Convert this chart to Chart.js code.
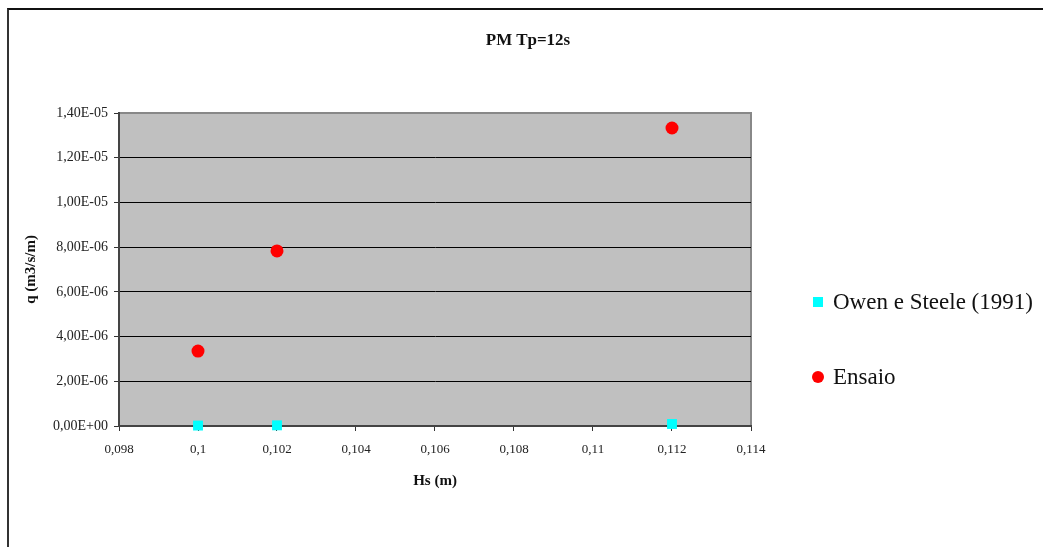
<!DOCTYPE html>
<html>
<head>
<meta charset="utf-8">
<script src="https://cdn.jsdelivr.net/npm/chart.js@4.4.1/dist/chart.umd.min.js"></script>
<style>
html,body{margin:0;padding:0;background:#fff;}
#wrap{position:relative;width:1043px;height:547px;overflow:hidden;font-family:"Liberation Serif","Times New Roman",serif;color:#111;}
#frame{position:absolute;left:7px;top:8px;width:1100px;height:600px;border-left:2px solid #333;border-top:2px solid #111;box-sizing:border-box;}
#c{position:absolute;left:0;top:0;}
#title{position:absolute;left:0;width:1056px;top:30px;text-align:center;font-weight:bold;font-size:17px;line-height:20px;}
.legtxt{position:absolute;left:833px;font-size:23px;line-height:30px;height:30px;white-space:nowrap;}
.legbox{position:absolute;}
</style>
</head>
<body>
<div id="wrap">
  <div id="frame"></div>
  <canvas id="c" width="1043" height="547"></canvas>
  <div id="title">PM Tp=12s</div>
  <div id="leg"></div>
</div>
<script>
// ---- data ----
const hs = [0.1, 0.102, 0.112];
const owenSteele = [2e-8, 3e-8, 9e-8];
const ensaio = [3.35e-6, 7.83e-6, 1.333e-5];
const seriesLabels = ['Owen e Steele (1991)', 'Ensaio'];
const xTickLabels = ['0,098','0,1','0,102','0,104','0,106','0,108','0,11','0,112','0,114'];
const yTickLabels = ['0,00E+00','2,00E-06','4,00E-06','6,00E-06','8,00E-06','1,00E-05','1,20E-05','1,40E-05'];
const chartTitle = 'PM Tp=12s';
const xTitle = 'Hs (m)';
const yTitle = 'q (m3/s/m)';

// ---- styles ----
const colors = ['#00FFFF', '#FF0000'];
const FONT = '"Liberation Serif","Times New Roman",serif';

document.getElementById('title').textContent = chartTitle;

// HTML legend
const leg = document.getElementById('leg');
const legY = [302, 377];
seriesLabels.forEach((lab, i) => {
  const box = document.createElement('div');
  box.className = 'legbox';
  if (i === 0) {
    Object.assign(box.style, {left:'813px', top:(legY[i]-5)+'px', width:'10px', height:'10px', background:colors[i]});
  } else {
    Object.assign(box.style, {left:'812px', top:(legY[i]-6)+'px', width:'12px', height:'12px', borderRadius:'50%', background:colors[i]});
  }
  leg.appendChild(box);
  const t = document.createElement('div');
  t.className = 'legtxt';
  t.style.top = (legY[i]-15)+'px';
  t.textContent = lab;
  leg.appendChild(t);
});

const plotBg = {
  id: 'plotBg',
  beforeDraw(chart) {
    const {ctx, chartArea: a} = chart;
    ctx.save();
    ctx.fillStyle = '#C0C0C0';
    ctx.fillRect(a.left, a.top, a.right - a.left, a.bottom - a.top);
    ctx.strokeStyle = '#888888';
    ctx.lineWidth = 2;
    ctx.beginPath();
    ctx.moveTo(a.left, a.top);
    ctx.lineTo(a.right, a.top);
    ctx.lineTo(a.right, a.bottom);
    ctx.stroke();
    ctx.restore();
  }
};

const yMax = 1.4e-5;

new Chart(document.getElementById('c'), {
  type: 'scatter',
  data: {
    datasets: [
      {
        label: seriesLabels[0],
        data: hs.map((x, i) => ({x: x, y: owenSteele[i]})),
        pointStyle: 'rect',
        pointRadius: 7,
        backgroundColor: colors[0],
        borderWidth: 0,
        clip: false
      },
      {
        label: seriesLabels[1],
        data: hs.map((x, i) => ({x: x, y: ensaio[i]})),
        pointStyle: 'circle',
        pointRadius: 6.5,
        backgroundColor: colors[1],
        borderWidth: 0,
        clip: false
      }
    ]
  },
  options: {
    responsive: false,
    animation: false,
    devicePixelRatio: 1,
    events: [],
    layout: {padding: {top: 113, right: 292, left: 0, bottom: 0}},
    plugins: {
      legend: {display: false},
      title: {display: false},
      tooltip: {enabled: false}
    },
    scales: {
      x: {
        type: 'linear',
        min: 0.098,
        max: 0.114,
        ticks: {
          stepSize: 0.002,
          callback: (v, i) => xTickLabels[i],
          font: {family: FONT, size: 13},
          color: '#222',
          padding: 11,
          maxRotation: 0,
          autoSkip: false
        },
        grid: {drawOnChartArea: false, drawTicks: true, tickLength: 5, tickColor: '#333', tickWidth: 1},
        border: {color: '#444', width: 2},
        title: {display: true, text: xTitle, font: {family: FONT, size: 15, weight: 'bold'}, color: '#111', padding: {top: 0, bottom: 57}},
        afterFit(s) { s.height = 121; }
      },
      y: {
        type: 'linear',
        min: 0,
        max: yMax,
        ticks: {
          stepSize: 2e-6,
          callback: (v, i) => yTickLabels[i],
          font: {family: FONT, size: 14},
          color: '#222',
          padding: 6,
          autoSkip: false
        },
        grid: {
          drawOnChartArea: true,
          drawTicks: true,
          tickLength: 5,
          tickColor: '#333',
          color: (c) => (c.tick && Math.abs(c.tick.value - yMax) < 1e-12) ? 'rgba(0,0,0,0)' : '#000',
          lineWidth: 1
        },
        border: {color: '#444', width: 2},
        title: {display: true, text: yTitle, font: {family: FONT, size: 15, weight: 'bold'}, color: '#111', padding: {top: 22, bottom: 0}},
        afterFit(s) { s.width = 119; }
      }
    }
  },
  plugins: [plotBg]
});
</script>
</body>
</html>
